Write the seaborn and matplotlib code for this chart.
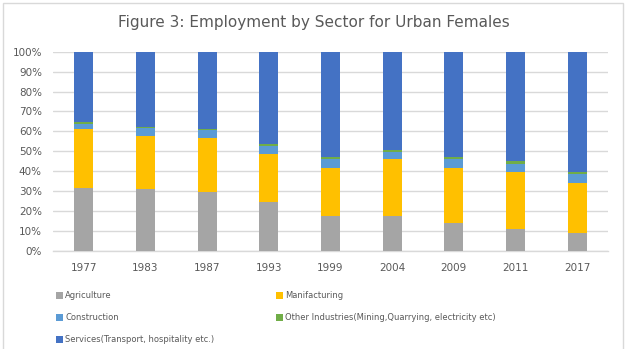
import matplotlib
matplotlib.use("Agg")
import matplotlib.pyplot as plt
from matplotlib.patches import Patch, Rectangle
from matplotlib.ticker import PercentFormatter
import numpy as np
import pandas as pd
import seaborn as sns

years = ["1977", "1983", "1987", "1993", "1999", "2004", "2009", "2011", "2017"]
agriculture = [31.5, 30.9, 29.4, 24.4, 17.4, 17.5, 13.9, 10.9, 8.7]
manufacturing = [29.7, 26.9, 27.2, 24.2, 24.2, 28.6, 27.7, 28.5, 25.4]
construction = [2.7, 4.0, 4.2, 3.8, 4.5, 3.7, 4.7, 4.2, 4.5]
other_industries = [0.6, 0.5, 0.6, 1.0, 1.0, 0.8, 0.8, 1.3, 0.8]
services = [35.5, 37.7, 38.6, 46.6, 52.9, 49.4, 52.9, 55.1, 60.6]

sector_names = [
    "Agriculture",
    "Manifacturing",
    "Construction",
    "Other Industries(Mining,Quarrying, electricity etc)",
    "Services(Transport, hospitality etc.)",
]
sector_colors = ["#A5A5A5", "#FFC000", "#5B9BD5", "#70AD47", "#4472C4"]

shares = pd.DataFrame(
    {
        sector_names[0]: agriculture,
        sector_names[1]: manufacturing,
        sector_names[2]: construction,
        sector_names[3]: other_industries,
        sector_names[4]: services,
    },
    index=years,
)
# cumulative tops of each stacked segment
tops = shares.cumsum(axis=1)

sns.set_theme(style="white")
plt.rcParams["font.family"] = ["DejaVu Sans"]
text_color = "#595959"
grid_color = "#D9D9D9"

fig = plt.figure(figsize=(6.28, 3.49), dpi=100)
ax = fig.add_axes([53 / 628, 1 - 250.7 / 349, (608 - 53) / 628, (250.7 - 51.7) / 349])

# draw from the tallest cumulative segment down so lower sectors sit on top
for name, color in reversed(list(zip(sector_names, sector_colors))):
    frame = pd.DataFrame({"year": years, "top": tops[name].values})
    sns.barplot(data=frame, x="year", y="top", color=color, width=0.31,
                saturation=1, ax=ax, zorder=3, linewidth=0)

ax.set_ylim(0, 100)
ax.set_xlim(-0.5, len(years) - 0.5)
ax.set_yticks(np.arange(0, 101, 10))
ax.yaxis.set_major_formatter(PercentFormatter(decimals=0))
ax.set_xlabel("")
ax.set_ylabel("")
ax.grid(axis="y", color=grid_color, linewidth=1, zorder=0)
for side in ["top", "right", "left"]:
    ax.spines[side].set_visible(False)
ax.spines["bottom"].set_color(grid_color)
ax.spines["bottom"].set_linewidth(1)
ax.tick_params(axis="y", length=0, pad=8, labelsize=7.5, labelcolor=text_color)
ax.tick_params(axis="x", length=0, pad=9, labelsize=7.5, labelcolor=text_color)

fig.text(0.5, 1 - 22 / 349, "Figure 3: Employment by Sector for Urban Females",
         ha="center", va="center", fontsize=11, color=text_color)

# chart frame
fig.patches.append(Rectangle((3 / 628, -0.05), (622.5 - 3) / 628, 1.05 - 3 / 349,
                             transform=fig.transFigure, fill=False,
                             edgecolor=grid_color, linewidth=1))

handles = [Patch(facecolor=c, edgecolor="none") for c in sector_colors]
legend_kw = dict(loc="upper left", frameon=False, fontsize=6, borderpad=0,
                 borderaxespad=0, handlelength=0.8, handleheight=0.8,
                 handletextpad=0.3, labelspacing=1.55, labelcolor=text_color)
left_items = [0, 2, 4]
right_items = [1, 3]
leg1 = fig.legend([handles[i] for i in left_items], [sector_names[i] for i in left_items],
                  bbox_to_anchor=(56 / 628, 1 - 291.5 / 349), **legend_kw)
leg2 = fig.legend([handles[i] for i in right_items], [sector_names[i] for i in right_items],
                  bbox_to_anchor=(276 / 628, 1 - 291.5 / 349), **legend_kw)

fig.savefig("out.png", dpi=100)
